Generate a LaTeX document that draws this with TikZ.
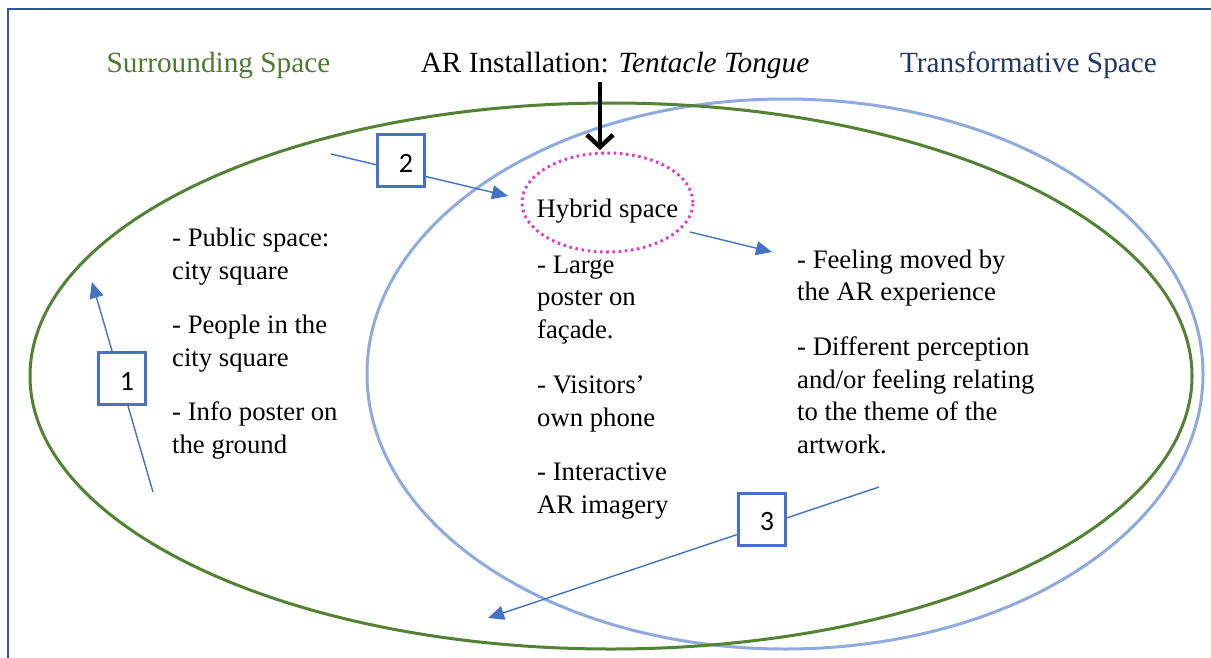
\documentclass[tikz,border=0pt]{standalone}
\usepackage{fontspec}
\setmainfont{Liberation Serif}
\newfontfamily\numfont{Carlito}
\usetikzlibrary{arrows.meta,shapes.geometric}
\definecolor{framec}{HTML}{2F5597}
\definecolor{greenc}{HTML}{548235}
\definecolor{lblue}{HTML}{8FAADC}
\definecolor{arrowc}{HTML}{4472C4}
\definecolor{magc}{HTML}{DA3FCC}
\definecolor{gtitle}{HTML}{4F7A30}
\definecolor{btitle}{HTML}{203864}
\begin{document}
\begin{tikzpicture}[x=1pt,y=-1pt,
  body/.style={anchor=base west, inner sep=0pt, font=\fontsize{26.7}{32}\selectfont},
  ttl/.style={anchor=base, inner sep=0pt, font=\fontsize{29.3}{35}\selectfont},
  numbox/.style={draw=arrowc, line width=2.6pt, fill=white, minimum width=47pt, minimum height=52pt, inner sep=0pt},
  num/.style={inner sep=0pt, font=\numfont\fontsize{28}{30}\selectfont},
  conn/.style={draw=arrowc, line width=1.4pt, -{Triangle[length=16pt,width=14pt]}},
  hybell/.style={ellipse, draw=magc, line width=3pt, dash pattern=on 2.6pt off 3.6pt, minimum width=171pt, minimum height=99pt, inner sep=0pt}]
\useasboundingbox (0,0) rectangle (1211,657);
\fill[white] (0,0) rectangle (1211,657);
\draw[framec, line width=2.6pt] (1213,9) -- (8,9) -- (8,659);

% ellipses
\draw[lblue, line width=3pt] (785,374) ellipse [x radius=418, y radius=275];
\draw[greenc, line width=3pt] (611,376) ellipse [x radius=581, y radius=273];

% titles
\node[ttl, text=gtitle] (tsur) at (218.5,72) {Surrounding Space};
\node[ttl] (tar) at (615,72) {AR Installation: \textit{Tentacle Tongue}};
\node[ttl, text=btitle] (ttra) at (1028.5,72) {Transformative Space};

% hybrid space
\node[hybell] (hyb) at (607.5,202.5) {};
\node[anchor=base, inner sep=0pt, font=\fontsize{26.7}{32}\selectfont] (hybt) at (607.5,217) {Hybrid space};

% black arrow
\coordinate (bs) at (600,82);
\coordinate (be) at (600,150);
\draw[line width=4.5pt, -{Straight Barb[length=12pt,width=26pt]}] (bs) -- (be);

% left text
\node[body] (l1) at (172,246) {- Public space:};
\node[body] (l2) at (172,279) {city square};
\node[body] (l3) at (172,333) {- People in the};
\node[body] (l4) at (172,366) {city square};
\node[body] (l5) at (172,420) {- Info poster on};
\node[body] (l6) at (172,453) {the ground};

% middle text
\node[body] (m1) at (537,273) {- Large};
\node[body] (m2) at (537,305) {poster on};
\node[body] (m3) at (537,338) {façade.};
\node[body] (m4) at (537,393) {- Visitors’};
\node[body] (m5) at (537,426) {own phone};
\node[body] (m6) at (537,480) {- Interactive};
\node[body] (m7) at (537,513) {AR imagery};

% right text
\node[body] (r1) at (797,268) {- Feeling moved by};
\node[body] (r2) at (797,300) {the AR experience};
\node[body] (r3) at (797,355) {- Different perception};
\node[body] (r4) at (797,388) {and/or feeling relating};
\node[body] (r5) at (797,420) {to the theme of the};
\node[body] (r6) at (797,453) {artwork.};

% connectors
\coordinate (a1s) at (153,492);
\coordinate (a1e) at (92,282);
\coordinate (a2s) at (331,154);
\coordinate (a2e) at (508,196);
\coordinate (a3s) at (879,487);
\coordinate (a3e) at (488,618);
\coordinate (a4s) at (690,232);
\coordinate (a4e) at (772,252);
\draw[conn] (a1s) -- (a1e);
\draw[conn] (a2s) -- (a2e);
\draw[conn] (a3s) -- (a3e);
\draw[conn] (a4s) -- (a4e);

% number boxes
\node[numbox] (b1) at (122,378.5) {};
\node[num] (n1) at (127,381) {1};
\node[numbox] (b2) at (401,160.5) {};
\node[num] (n2) at (406,163) {2};
\node[numbox] (b3) at (762,519.5) {};
\node[num] (n3) at (767,522) {3};
\end{tikzpicture}
\end{document}
